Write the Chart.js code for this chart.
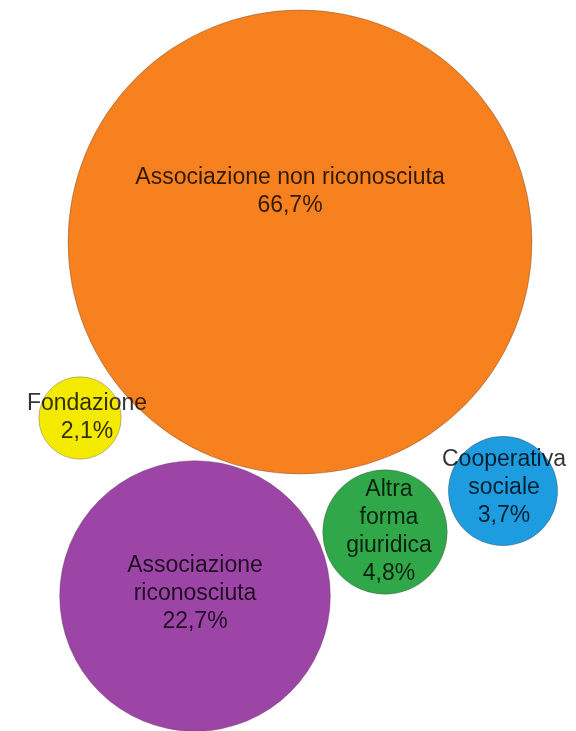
<!DOCTYPE html>
<html>
<head>
<meta charset="utf-8">
<script src="https://cdn.jsdelivr.net/npm/chart.js@4"></script>
<style>
  html, body { margin: 0; padding: 0; background: #ffffff; }
  #wrap { width: 576px; height: 731px; position: relative; }
</style>
</head>
<body>
<div id="wrap"><canvas id="c" width="576" height="731"></canvas></div>
<script>
// ---- data ----
const categories = [
  ["Associazione non riconosciuta"],
  ["Fondazione"],
  ["Associazione", "riconosciuta"],
  ["Altra", "forma", "giuridica"],
  ["Cooperativa", "sociale"]
];
const shares = [66.7, 2.1, 22.7, 4.8, 3.7];        // percent
const shareLabels = ["66,7%", "2,1%", "22,7%", "4,8%", "3,7%"];
const posX = [300, 80, 195, 385, 503];              // bubble layout position (x units)
const posY = [242, 418, 596, 532, 491];             // bubble layout position (y units)
const colors = ["#F7811F", "#F3EA00", "#9D45A6", "#30A84A", "#1D9DE0"];

// ---- styling ----
const MAX_R = 232;  // radius of the largest bubble in px (area proportional to share)
const labelOffsets = [[-10, -50], [7, 0], [0, -2], [4, 0], [1, -3]];

const maxShare = Math.max(...shares);
const points = shares.map((v, i) => ({
  x: posX[i], y: posY[i], r: Math.sqrt(v / maxShare) * MAX_R
}));

const labelPlugin = {
  id: 'bubbleLabels',
  afterDatasetsDraw(chart) {
    const ctx = chart.ctx;
    const meta = chart.getDatasetMeta(0);
    ctx.save();
    ctx.font = '23px "Liberation Sans", Arial, sans-serif';
    ctx.textAlign = 'center';
    ctx.textBaseline = 'middle';
    ctx.fillStyle = 'rgba(0,0,0,0.8)';
    const lh = 28;
    meta.data.forEach((el, i) => {
      const lines = categories[i].concat([shareLabels[i]]);
      const cx = el.x + labelOffsets[i][0];
      const cy = el.y + labelOffsets[i][1];
      lines.forEach((t, k) => {
        ctx.fillText(t, cx, cy + (k - (lines.length - 1) / 2) * lh);
      });
    });
    ctx.restore();
  }
};

new Chart(document.getElementById('c'), {
  type: 'bubble',
  data: {
    datasets: [{
      data: points,
      backgroundColor: colors,
      borderColor: 'rgba(80,60,60,0.35)',
      borderWidth: 1,
      hoverRadius: 0,
      clip: false
    }]
  },
  options: {
    responsive: false,
    animation: false,
    devicePixelRatio: 1,
    layout: { padding: 0, autoPadding: false },
    events: [],
    plugins: { legend: { display: false }, tooltip: { enabled: false } },
    scales: {
      x: { type: 'linear', min: 0, max: 576, display: false },
      y: { type: 'linear', min: 0, max: 731, reverse: true, display: false }
    }
  },
  plugins: [labelPlugin]
});
</script>
</body>
</html>
